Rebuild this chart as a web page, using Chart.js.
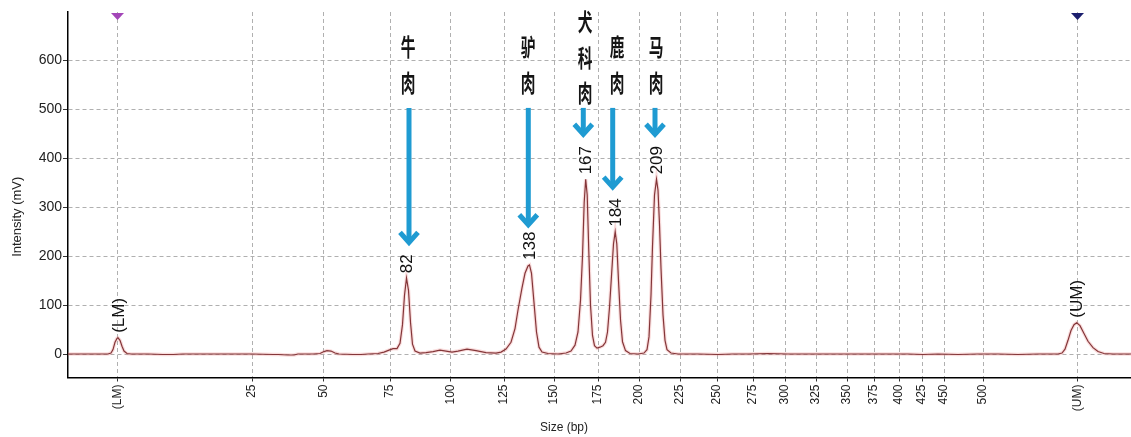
<!DOCTYPE html>
<html>
<head>
<meta charset="utf-8">
<script src="https://cdn.jsdelivr.net/npm/chart.js@4"></script>
<style>
  html, body { margin: 0; padding: 0; background: #fff; }
  #wrap { width: 1131px; height: 437px; position: relative; }
</style>
</head>
<body>
<div id="wrap"><canvas id="c"></canvas></div>
<script>
// Size ladder: label of each marker and its migration time (s)
const ladderLabels = ['(LM)', '25', '50', '75', '100', '125', '150', '175', '200', '225', '250',
  '275', '300', '325', '350', '375', '400', '425', '450', '500', '(UM)'];
const ladderTimes = [4.95, 18.4, 25.55, 32.2, 38.3, 43.6, 48.6, 53.0, 57.1, 61.2, 64.9,
  68.5, 71.7, 74.8, 77.9, 80.6, 83.1, 85.4, 87.6, 91.5, 100.95];

// Intensity axis ticks (mV)
const yTicks = [0, 100, 200, 300, 400, 500, 600];

// Electropherogram trace: migration time (s) and signal (mV)
const traceTime = [
  0, 1.5, 3.0, 4.0, 4.3, 4.5, 4.7, 4.9, 5.0, 5.2, 5.4, 5.6, 5.9, 6.3, 8.0, 9.5, 10.5, 11.5,
  14.0, 16.0, 18.4, 20.5, 21.0, 22.0, 22.6, 23.0, 24.5, 25.2, 25.6, 25.9, 26.3, 26.7, 27.1,
  28.5, 29.3, 30.0, 31.0, 31.6, 32.1, 32.5, 32.9, 33.2, 33.45, 33.65, 33.85, 34.05, 34.25,
  34.45, 34.7, 35.2, 35.8, 36.5, 37.2, 37.8, 38.4, 39.0, 39.9, 40.8, 41.8, 42.8, 43.3, 43.8,
  44.3, 44.7, 45.0, 45.4, 45.7, 46.0, 46.15, 46.35, 46.6, 46.85, 47.1, 47.4, 48.0, 49.0,
  49.8, 50.3, 50.7, 51.0, 51.25, 51.45, 51.62, 51.77, 51.92, 52.08, 52.25, 52.45, 52.65,
  52.9, 53.2, 53.5, 53.75, 53.95, 54.15, 54.35, 54.55, 54.72, 54.88, 55.05, 55.25, 55.45,
  55.75, 56.2, 57.0, 57.6, 57.9, 58.1, 58.3, 58.45, 58.65, 58.85, 59.0, 59.15, 59.3, 59.5,
  59.7, 59.9, 60.3, 61.0, 63.0, 65.0, 66.5, 68.0, 70.0, 72.0, 75.0, 78.0, 81.0, 84.0, 85.5,
  87.0, 89.0, 91.0, 93.0, 95.0, 97.0, 99.0, 99.4, 99.7, 100.0, 100.3, 100.6, 100.87, 101.2,
  101.6, 102.0, 102.5, 103.0, 103.6, 104.5, 106.3
];
const traceSignal = [
  0, 0, 0, 0, 2, 9, 24, 32, 33, 28, 16, 6, 1, 0, 0, -1, -1, 0,
  0, 0, 0, -1, -1, -2, -2, 0, 0, 1, 5, 7, 6, 2, 0,
  -1, -1, 0, 1, 4, 8, 11, 11, 22, 60, 120, 155, 130, 65,
  20, 6, 2, 3, 5, 8, 6, 4, 6, 10, 7, 3, 2, 4, 10,
  24, 52, 90, 135, 165, 180, 182, 165, 105, 45, 14, 4, 1, 0,
  2, 6, 18, 45, 110, 200, 310, 357, 325, 210, 100, 38, 17,
  12, 14, 17, 24, 45, 95, 160, 225, 250, 225, 150, 70, 25,
  7, 1, 0, 2, 9, 35, 120, 220, 325, 357, 335, 265, 175, 80,
  28, 9, 2, 0, 0, -1, 0, 0, 1, 0, 0, 0, 0, 0, -1,
  0, -1, 0, 0, -1, 0, 0, 2, 10, 28, 48, 60, 64, 58,
  42, 26, 13, 5, 1, 0, 0
];

// Called peaks: label, migration time (s), height (mV)
const peakNames = ['(LM)', '82', '138', '167', '184', '209', '(UM)'];
const peakTimes = [5.0, 33.85, 46.15, 51.77, 54.72, 58.85, 100.87];
const peakHeights = [33, 155, 182, 357, 250, 357, 64];

// Species annotations: name, arrow column (s), arrow top / tip (mV), first character (mV)
const speciesNames = ['牛肉', '驴肉', '犬科肉', '鹿肉', '马肉'];
const speciesNotes = [
  { x: 34.1,  textX: 34.0,  top: 503, tip: 222, textTop: 627 },
  { x: 46.03, textX: 46.0,  top: 503, tip: 258, textTop: 627 },
  { x: 51.53, textX: 51.7,  top: 503, tip: 443, textTop: 678 },
  { x: 54.47, textX: 54.9,  top: 503, tip: 335, textTop: 627 },
  { x: 58.7,  textX: 58.8,  top: 503, tip: 443, textTop: 627 }
];

const points = traceTime.map((t, i) => ({ x: t, y: traceSignal[i] }));

const FONT = '"Liberation Sans", Arial, sans-serif';

const overlay = {
  id: 'overlay',
  afterDatasetsDraw(chart) {
    const { ctx, chartArea, scales: { x, y } } = chart;
    ctx.save();

    // marker triangles along the top edge
    const tri = (t, color) => {
      const px = x.getPixelForValue(t), py = chartArea.top + 1;
      ctx.fillStyle = color;
      ctx.beginPath();
      ctx.moveTo(px - 6.5, py);
      ctx.lineTo(px + 6.5, py);
      ctx.lineTo(px, py + 7);
      ctx.closePath();
      ctx.fill();
    };
    tri(ladderTimes[0], '#a346b8');
    tri(ladderTimes[ladderTimes.length - 1], '#1c1f6e');

    // peak size labels, vertical
    ctx.fillStyle = '#111';
    ctx.font = '17px ' + FONT;
    ctx.textAlign = 'left';
    ctx.textBaseline = 'middle';
    peakNames.forEach((name, i) => {
      const px = x.getPixelForValue(peakTimes[i]);
      const py = y.getPixelForValue(peakHeights[i]) - 5;
      ctx.save();
      ctx.translate(px, py);
      ctx.rotate(-Math.PI / 2);
      ctx.fillText(name, 0, 1);
      ctx.restore();
    });

    // species arrows
    ctx.strokeStyle = '#1f9bd2';
    ctx.lineWidth = 5;
    ctx.lineJoin = 'miter';
    speciesNotes.forEach(n => {
      const px = x.getPixelForValue(n.x);
      const y0 = y.getPixelForValue(n.top);
      const y1 = y.getPixelForValue(n.tip);
      ctx.beginPath();
      ctx.moveTo(px, y0);
      ctx.lineTo(px, y1 - 3);
      ctx.stroke();
      ctx.beginPath();
      ctx.moveTo(px - 9, y1 - 13);
      ctx.lineTo(px, y1 - 3);
      ctx.lineTo(px + 9, y1 - 13);
      ctx.stroke();
    });

    // species names, stacked characters
    ctx.fillStyle = '#151515';
    ctx.font = 'bold 16px "Noto Sans CJK SC", sans-serif';
    ctx.textAlign = 'center';
    ctx.textBaseline = 'middle';
    speciesNames.forEach((name, i) => {
      const n = speciesNotes[i];
      const px = x.getPixelForValue(n.textX);
      const py = y.getPixelForValue(n.textTop);
      [...name].forEach((ch, k) => {
        ctx.save();
        ctx.translate(px, py + k * 35.5);
        ctx.scale(0.92, 1.48);
        ctx.fillText(ch, 0, 0);
        ctx.restore();
      });
    });

    // axis titles
    ctx.fillStyle = '#222';
    ctx.font = '13px ' + FONT;
    ctx.textAlign = 'center';
    ctx.textBaseline = 'middle';
    ctx.save();
    ctx.translate(17, (chartArea.top + chartArea.bottom) / 2 + 22);
    ctx.rotate(-Math.PI / 2);
    ctx.fillText('Intensity (mV)', 0, 0);
    ctx.restore();
    ctx.font = '12px ' + FONT;
    ctx.fillText('Size (bp)', x.getPixelForValue(49.6), 428);

    ctx.restore();
  }
};

new Chart(document.getElementById('c'), {
  type: 'scatter',
  data: {
    datasets: [
      {
        data: points,
        showLine: true,
        borderColor: 'rgba(235, 130, 130, 0.28)',
        borderWidth: 3.5,
        pointRadius: 0,
        tension: 0
      },
      {
        data: points,
        showLine: true,
        borderColor: '#5e1a1e',
        borderWidth: 1.2,
        pointRadius: 0,
        tension: 0
      }
    ]
  },
  options: {
    responsive: true,
    maintainAspectRatio: false,
    animation: false,
    events: [],
    layout: { padding: { top: 12, right: 0, left: 0, bottom: 0 } },
    plugins: { legend: { display: false }, tooltip: { enabled: false } },
    scales: {
      x: {
        type: 'linear',
        min: 0,
        max: 106.3,
        afterBuildTicks: s => { s.ticks = ladderTimes.map(v => ({ value: v })); },
        afterFit: s => { s.height = 59.5; },
        ticks: {
          autoSkip: false,
          maxRotation: 90,
          minRotation: 90,
          padding: 3,
          color: '#222',
          font: { family: FONT, size: 12 },
          callback: (v, i) => ladderLabels[i]
        },
        grid: {
          color: '#b0b0b0',
          lineWidth: 1,
          tickLength: 4,
          tickColor: '#333',
          tickWidth: 1
        },
        border: { display: true, color: '#000', width: 1.5, dash: [4, 3] }
      },
      y: {
        type: 'linear',
        min: -48,
        max: 699,
        afterBuildTicks: s => { s.ticks = yTicks.map(v => ({ value: v })); },
        afterFit: s => { s.width = 68; },
        ticks: {
          padding: 1,
          color: '#222',
          font: { family: FONT, size: 14 }
        },
        grid: {
          color: '#b0b0b0',
          lineWidth: 1,
          tickLength: 5,
          tickColor: '#333',
          tickWidth: 1
        },
        border: { display: true, color: '#000', width: 1.5, dash: [4, 3] }
      }
    }
  },
  plugins: [overlay]
});
</script>
</body>
</html>
